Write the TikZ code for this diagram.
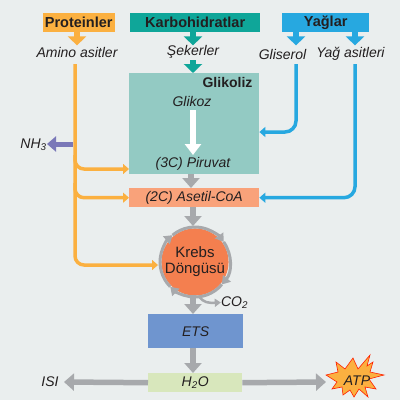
\documentclass[tikz,border=0pt]{standalone}
\usepackage{fontspec}
\setmainfont{Liberation Sans}
\usetikzlibrary{arrows.meta,calc}
\definecolor{bg}{HTML}{EAEEEE}
\definecolor{ink}{HTML}{231F20}
\definecolor{orangeA}{HTML}{FBB040}
\definecolor{tealA}{HTML}{0FA699}
\definecolor{blueA}{HTML}{27A8E0}
\definecolor{glik}{HTML}{93CAC3}
\definecolor{aset}{HTML}{F9A27A}
\definecolor{krebs}{HTML}{F47F4F}
\definecolor{etsc}{HTML}{6F95CF}
\definecolor{water}{HTML}{D8E7BC}
\definecolor{grayA}{HTML}{A7A9AC}
\definecolor{purp}{HTML}{7A78B8}
\tikzset{
  lab/.style={font=\fontsize{14}{16}\selectfont\itshape,text=ink,inner sep=0pt},
  head/.style={font=\fontsize{14.5}{16}\selectfont\bfseries,text=ink,inner sep=0pt,minimum height=19pt,anchor=north west},
  boxn/.style={inner sep=0pt,anchor=north west},
  block/.style={line width=#1,-{Triangle[length=9pt,width=18pt]}},
  fatO/.style={block=6pt,draw=orangeA},
  fatT/.style={block=6pt,draw=tealA},
  fatB/.style={block=6pt,draw=blueA},
  fatG/.style={line width=5.5pt,draw=grayA,-{Triangle[length=10pt,width=17pt]}},
  thinO/.style={draw=orangeA,line width=3.5pt,rounded corners=9pt,-{Triangle[length=6pt,width=10pt]}},
  thinB/.style={draw=blueA,line width=3.5pt,rounded corners=11pt,-{Triangle[length=6pt,width=10pt]}},
  cyc/.style={draw=grayA,line width=3pt,-{Triangle[length=8pt,width=10pt]}}
}
\begin{document}
\begin{tikzpicture}[x=1pt,y=-1pt]
\useasboundingbox (0,0) rectangle (400,400);
\fill[bg] (0,0) rectangle (400,400);
% header boxes
\node[head,fill=orangeA,minimum width=72pt] (prot) at (42.5,13) {Proteinler};
\node[head,fill=tealA,minimum width=130pt] (karb) at (130,13) {Karbohidratlar};
\node[head,fill=blueA,minimum width=87pt] (yag) at (282,13) {Yağlar};
% labels
\node[lab] (amino) at (77,52) {Amino asitler};
\node[lab] (seker) at (193,52) {Şekerler};
\node[lab] (glis) at (282.5,54) {Gliserol};
\node[lab] (yagas) at (350.5,54) {Yağ asitleri};
% main boxes
\node[boxn,fill=glik,minimum width=130pt,minimum height=101pt] (glk) at (129,73) {};
\node[font=\fontsize{14}{16}\selectfont\bfseries,text=ink,inner sep=0pt] (glktxt) at (227.500,82) {Glikoliz};
\node[lab] (glikoz) at (192,101) {Glikoz};
\node[lab] (piruvat) at (193,164) {(3C) Piruvat};
\node[boxn,fill=aset,minimum width=130pt,minimum height=19pt,font=\fontsize{14}{16}\selectfont\itshape,text=ink] (aset) at (129,188) {(2C) Asetil-CoA};
% krebs ring
\node[circle,fill=krebs,minimum size=66pt,inner sep=0pt,align=center,text=ink,font=\fontsize{15}{16}\selectfont] (kr) at (195,262) {Krebs\\Döngüsü};
\draw[cyc] (kr.center) ++(-130:35) arc[start angle=-130,end angle=-35,radius=35];
\draw[cyc] (kr.center) ++(-35:35) arc[start angle=-35,end angle=40,radius=35];
\draw[cyc] (kr.center) ++(40:35) arc[start angle=40,end angle=135,radius=35];
\draw[cyc] (kr.center) ++(135:35) arc[start angle=135,end angle=230,radius=35];
\node[boxn,fill=etsc,minimum width=95pt,minimum height=34pt,font=\fontsize{14}{16}\selectfont\itshape,text=ink] (ets) at (148,314) {ETS};
\node[boxn,fill=water,minimum width=94pt,minimum height=19pt,font=\fontsize{14}{16}\selectfont\itshape,text=ink] (su) at (148,373) {H\textsubscript{2}O};
\node[lab] (isi) at (50,382) {ISI};
\node[lab] (nh) at (33.500,145) {NH\textsubscript{3}};
\node[lab] (co) at (234.500,302.500) {CO\textsubscript{2}};
% starburst
\filldraw[fill=orangeA,draw=red!75!orange,line width=0.6pt]
 (326,375) -- (338,372) -- (336,362) -- (345,369) -- (353,358) -- (358,369) -- (370,355) -- (367,366) -- (373,362) -- (370,372) -- (384,375)
 -- (369,379) -- (376,389) -- (365,387) -- (368,397) -- (359,389) -- (354,397) -- (350,390) -- (343,395) -- (342,387) -- (332,389) -- (337,382) -- cycle;
\node[lab] (atp) at (357,381) {ATP};
% block arrows
\draw[fatO] (prot.south -| 77,0) -- ++(0,13);
\draw[fatT] (karb.south -| 193,0) -- ++(0,13);
\draw[fatT] (193,60) -- (glk.north -| 193,0);
\draw[fatB] (yag.south -| 296,0) -- ++(0,13);
\draw[fatB] (yag.south -| 355,0) -- ++(0,13);
\draw[draw=white,line width=6pt,-{Triangle[length=11pt,width=16pt]}] (193,110) -- (193,155);
\coordinate (nhtip) at (47,144);
\draw[draw=purp,line width=5pt,-{Triangle[length=9pt,width=15pt]}] (73,144) -- (nhtip);
% gray flow
\draw[fatG] (glk.south -| 191,0) -- (aset.north -| 191,0);
\draw[fatG] (aset.south -| 193,0) -- (193,226);
\draw[fatG] (193,295) -- (ets.north -| 193,0);
\draw[fatG] (ets.south -| 193,0) -- (su.north -| 193,0);
\draw[fatG] (su.west) -- (64,382);
\draw[fatG] (su.east) -- (326,382);
% side connectors
\coordinate (osrc) at (75,64);
\draw[thinO] (osrc) |- (158,265);
\draw[thinO] (75,155) |- (glk.west |- 0,169);
\draw[thinO] (75,183) |- (aset.west);
\coordinate (bsrc1) at (296,64);
\coordinate (bsrc2) at (355,64);
\draw[thinB] (bsrc1) |- (glk.east |- 0,132);
\draw[thinB] (bsrc2) |- (aset.east);
% CO2 arrow
\draw[draw=grayA,line width=2.5pt,-{Triangle[length=6pt,width=8pt]}] (199,296) .. controls (203,303) and (209,303) .. (co.west);
\end{tikzpicture}
\end{document}
